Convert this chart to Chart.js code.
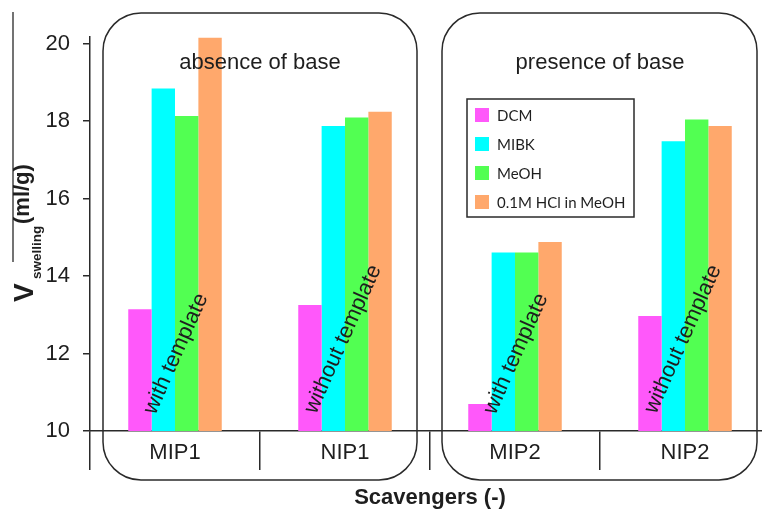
<!DOCTYPE html>
<html>
<head>
<meta charset="utf-8">
<script src="https://cdn.jsdelivr.net/npm/chart.js@4"></script>
<style>
  html, body { margin: 0; padding: 0; background: #fff; overflow: hidden; width: 762px; height: 511px; }
  #wrap { width: 770px; height: 511px; }
</style>
</head>
<body>
<div id="wrap"><canvas id="c" width="770" height="511"></canvas></div>
<script>
// ---- data ----
const categories = ['MIP1', 'NIP1', 'MIP2', 'NIP2'];
const seriesNames = ['DCM', 'MIBK', 'MeOH', '0.1M HCl in MeOH'];
const dcm  = [13.14, 13.25, 10.70, 12.97];
const mibk = [18.84, 17.87, 14.61, 17.48];
const meoh = [18.13, 18.09, 14.61, 18.04];
const hcl  = [20.15, 18.24, 14.88, 17.87];
const yTicks = [10, 12, 14, 16, 18, 20];
const groupTitles = ['absence of base', 'presence of base'];
const barNotes = ['with template', 'without template', 'with template', 'without template'];
const colors = ['#ff58fa', '#00ffff', '#52ff52', '#ffa86c'];

const FONT = '"Liberation Sans", Arial, sans-serif';
const INK = '#1e1e1e';

const decor = {
  id: 'decor',
  beforeDatasetsDraw(chart) {
    const ctx = chart.ctx;
    ctx.save();
    ctx.strokeStyle = '#2a2a2a';
    ctx.lineWidth = 1.5;
    // rounded group boxes
    const boxes = [[103, 13, 314, 467], [442, 13, 315, 467]];
    boxes.forEach(b => {
      ctx.beginPath();
      ctx.roundRect(b[0], b[1], b[2], b[3], 38);
      ctx.stroke();
    });
    // stray vertical line at far left
    ctx.strokeStyle = '#444';
    ctx.beginPath();
    ctx.moveTo(13, 12);
    ctx.lineTo(13, 262);
    ctx.stroke();
    ctx.restore();
  },
  afterDatasetsDraw(chart) {
    const ctx = chart.ctx;
    const xs = chart.scales.x, ys = chart.scales.y;
    ctx.save();
    ctx.fillStyle = INK;
    // group titles
    ctx.font = '22px ' + FONT;
    ctx.textAlign = 'center';
    ctx.textBaseline = 'middle';
    ctx.fillText(groupTitles[0], (xs.getPixelForValue(0) + xs.getPixelForValue(1)) / 2, 63);
    ctx.fillText(groupTitles[1], (xs.getPixelForValue(2) + xs.getPixelForValue(3)) / 2, 63);
    // rotated notes
    const ang = -66 * Math.PI / 180;
    barNotes.forEach((t, i) => {
      const cx = xs.getPixelForValue(i) + (t.startsWith('without') ? -2 : 1);
      const cy = ys.getPixelForValue(t.startsWith('without') ? 12.37 : 11.99);
      ctx.save();
      ctx.translate(cx, cy);
      ctx.rotate(ang);
      ctx.fillText(t, 0, 0);
      ctx.restore();
    });
    // legend
    ctx.strokeStyle = '#2a2a2a';
    ctx.lineWidth = 1.5;
    ctx.strokeRect(467, 99, 167, 118);
    ctx.font = '15px Lato, "Open Sans", sans-serif';
    ctx.textAlign = 'left';
    ctx.textBaseline = 'middle';
    chart.data.datasets.forEach((ds, i) => {
      const cy = 115 + i * 29;
      ctx.fillStyle = ds.backgroundColor;
      ctx.fillRect(475, cy - 7, 14, 14);
      ctx.fillStyle = INK;
      ctx.fillText(ds.label, 497, cy + 1);
    });
    // x axis title
    ctx.font = 'bold 22px ' + FONT;
    ctx.textAlign = 'center';
    ctx.fillText('Scavengers (-)', 430, 498);
    // y axis title (rotated, with subscript)
    ctx.textAlign = 'left';
    ctx.textBaseline = 'alphabetic';
    ctx.save(); ctx.translate(33, 302); ctx.rotate(-Math.PI / 2);
    ctx.font = 'bold 28px ' + FONT; ctx.fillText('V', 0, 0); ctx.restore();
    ctx.save(); ctx.translate(41, 279); ctx.rotate(-Math.PI / 2);
    ctx.font = 'bold 13.5px ' + FONT; ctx.fillText('swelling', 0, 0); ctx.restore();
    ctx.save(); ctx.translate(29, 224); ctx.rotate(-Math.PI / 2);
    ctx.font = 'bold 22px ' + FONT; ctx.fillText('(ml/g)', 0, 0); ctx.restore();
    ctx.restore();
  }
};

const series = [dcm, mibk, meoh, hcl];
new Chart(document.getElementById('c'), {
  type: 'bar',
  data: {
    labels: categories,
    datasets: series.map((d, i) => ({
      label: seriesNames[i],
      data: d,
      backgroundColor: colors[i],
      borderWidth: 0,
      categoryPercentage: 0.55,
      barPercentage: 1.0
    }))
  },
  options: {
    responsive: false,
    animation: false,
    layout: { padding: { top: 37, right: 0, bottom: 0, left: 0 } },
    plugins: { legend: { display: false }, tooltip: { enabled: false } },
    scales: {
      x: {
        offset: true,
        grid: { display: true, offset: true, drawOnChartArea: false, drawTicks: true, tickLength: 39, color: '#2a2a2a', lineWidth: 1.5 },
        border: { display: true, color: '#2a2a2a', width: 1.5 },
        ticks: { color: INK, font: { family: FONT, size: 22 }, padding: -30, maxRotation: 0 },
        afterFit(s) { s.height = 80; }
      },
      y: {
        min: 10,
        max: 20.17,
        afterBuildTicks(s) { s.ticks = yTicks.map(v => ({ value: v })); },
        grid: { display: true, drawOnChartArea: false, drawTicks: true, tickLength: 7, color: '#2a2a2a', lineWidth: 1.5 },
        border: { display: true, color: '#2a2a2a', width: 1.5 },
        ticks: { color: INK, font: { family: FONT, size: 22 }, padding: 13 },
        afterFit(s) { s.width = 90; }
      }
    }
  },
  plugins: [decor]
});
</script>
</body>
</html>
